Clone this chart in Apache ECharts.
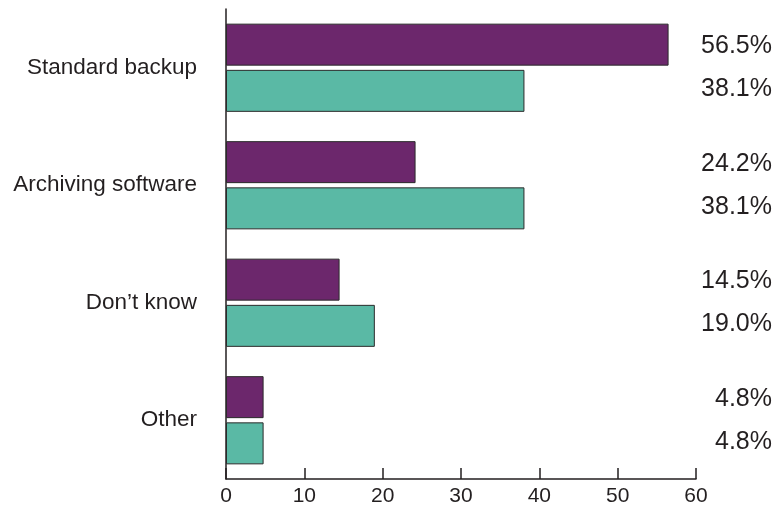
<!DOCTYPE html>
<html>
<head>
<meta charset="utf-8">
<script src="https://cdn.jsdelivr.net/npm/echarts@6/dist/echarts.min.js"></script>
<style>
  html, body { margin: 0; padding: 0; background: #ffffff; }
  #chart { width: 778px; height: 509px; }
</style>
</head>
<body>
<div id="chart"></div>
<script>
// Storage approach shares (%), two respondent groups
const categories = ['Standard backup', 'Archiving software', "Don\u2019t know", 'Other'];
const groupA = [56.5, 24.2, 14.5, 4.8];
const groupB = [38.1, 38.1, 19.0, 4.8];
const xTicks = [0, 10, 20, 30, 40, 50, 60];

const FONT = '"Liberation Sans", Arial, sans-serif';
const TEXT = '#231f20';

const chart = echarts.init(document.getElementById('chart'), null, { renderer: 'canvas' });

chart.setOption({
  animation: false,
  backgroundColor: '#ffffff',
  grid: { left: 226, right: 82, top: 9, bottom: 30, containLabel: false },
  xAxis: {
    type: 'value',
    min: xTicks[0],
    max: xTicks[xTicks.length - 1],
    interval: 10,
    axisLine: { show: true, lineStyle: { color: '#231f20', width: 1.5 } },
    axisTick: { show: true, inside: true, length: 11, lineStyle: { color: '#231f20', width: 1.5 } },
    splitLine: { show: false },
    axisLabel: { color: TEXT, fontFamily: FONT, fontSize: 21, margin: 7 }
  },
  yAxis: [
    {
      type: 'category',
      data: categories,
      inverse: true,
      axisLine: { show: true, lineStyle: { color: '#231f20', width: 1.5 } },
      axisTick: { show: false },
      axisLabel: {
        color: TEXT, fontFamily: FONT, fontSize: 22.5, margin: 29,
        padding: [0, 0, 3, 0]
      }
    },
    {
      // value readouts, one pair per category, right-aligned at the chart edge
      type: 'category',
      data: categories,
      inverse: true,
      position: 'right',
      axisLine: { show: false },
      axisTick: { show: false },
      axisLabel: {
        color: TEXT,
        fontFamily: FONT,
        fontSize: 25,
        align: 'right',
        margin: 76,
        lineHeight: 43,
        padding: [0, 0, 4, 0],
        formatter: function (value, idx) {
          return groupA[idx].toFixed(1) + '%\n' + groupB[idx].toFixed(1) + '%';
        }
      }
    }
  ],
  series: [
    {
      type: 'bar',
      data: groupA,
      barWidth: 42,
      barGap: '10%',
      itemStyle: { color: '#6c276c', borderColor: '#2b2b2b', borderWidth: 1 }
    },
    {
      type: 'bar',
      data: groupB,
      barWidth: 42,
      barGap: '10%',
      itemStyle: { color: '#5ab9a5', borderColor: '#2b2b2b', borderWidth: 1 }
    }
  ]
});
</script>
</body>
</html>
